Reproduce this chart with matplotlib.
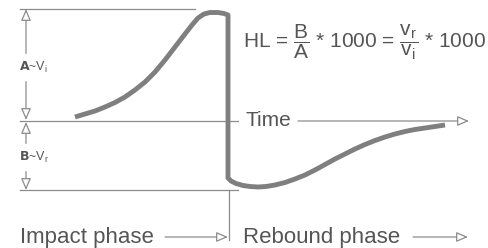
import matplotlib
matplotlib.use('Agg')
import matplotlib.pyplot as plt

plt.rcParams['font.family'] = 'Liberation Sans'
plt.rcParams['mathtext.fontset'] = 'custom'
plt.rcParams['mathtext.rm'] = 'Liberation Sans'
plt.rcParams['mathtext.it'] = 'Liberation Sans'

curve_x = [75, 85, 95, 105, 115, 125, 135, 145, 155, 165, 175, 185, 192, 198, 204, 210, 218, 224, 228,
           228, 231, 236, 243, 250, 258, 266, 275, 285, 295, 305, 315, 325, 335, 345, 355, 365,
           375, 385, 395, 405, 415, 425, 435, 445]
curve_y = [117, 114, 111, 107, 102.5, 97, 90, 82, 72, 60, 47, 34, 25, 18, 14, 12.5, 12.5, 13.5, 15,
           178, 181, 183.5, 185.5, 186.5, 187, 186.5, 185, 182.5, 179, 175, 170, 164.5, 159, 154, 149, 144.5,
           140.5, 137, 134, 131.5, 129.5, 128, 126.5, 125]

# reference levels
y_top = 9
y_time = 121
y_bottom = 190
x_split = 229

line_col = '#8c8c8c'
text_col = '#555555'
curve_col = '#7f7f7f'

fig = plt.figure(figsize=(4.89, 2.48), dpi=100)
ax = fig.add_axes([0, 0, 1, 1])
ax.set_xlim(0, 489)
ax.set_ylim(248, 0)
ax.axis('off')

# horizontal guides
ax.plot([20, 195], [y_top, y_top], color=line_col, lw=0.9)
ax.plot([20, 238], [y_time, y_time], color=line_col, lw=0.9)
ax.plot([20, 238], [y_bottom, y_bottom], color=line_col, lw=0.9)
ax.plot([x_split, x_split], [y_bottom, 240], color=line_col, lw=0.9)

arrow_kw = dict(arrowstyle='-|>,head_length=0.7,head_width=0.3', color=line_col,
                fc='white', lw=0.9, shrinkA=0, shrinkB=0)

# time axis arrow
ax.text(246, y_time, 'Time', fontsize=15, color=text_col, va='center', ha='left')
ax.annotate('', xy=(469, y_time), xytext=(298, y_time), arrowprops=arrow_kw)

# A and B dimension arrows
ax.annotate('', xy=(26, y_top), xytext=(26, 66), arrowprops=arrow_kw)
ax.annotate('', xy=(26, y_time - 1), xytext=(26, 66), arrowprops=arrow_kw)
ax.annotate('', xy=(26, y_time + 1), xytext=(26, 156), arrowprops=arrow_kw)
ax.annotate('', xy=(26, y_bottom), xytext=(26, 156), arrowprops=arrow_kw)
ax.text(19, 67, r'$\mathbf{A}$~V$_\mathrm{i}$', fontsize=9, color=text_col,
        va='center', ha='left', backgroundcolor='white')
ax.text(19, 157, r'$\mathbf{B}$~V$_\mathrm{r}$', fontsize=9, color=text_col,
        va='center', ha='left', backgroundcolor='white')

# curve
ax.plot(curve_x, curve_y, color=curve_col, lw=3.5, solid_joinstyle='round',
        solid_capstyle='butt')

# formula
ax.text(243, 42, r'HL = $\dfrac{\mathrm{B}}{\mathrm{A}}$ * 1000 = $\dfrac{\mathrm{v_r}}{\mathrm{v_i}}$ * 1000',
        fontsize=15, color=text_col, va='center', ha='left')

# phase labels
ax.text(20, 237, 'Impact phase', fontsize=16, color=text_col, va='center', ha='left')
ax.annotate('', xy=(228, 237), xytext=(165, 237), arrowprops=arrow_kw)
ax.text(243, 237, 'Rebound phase', fontsize=16, color=text_col, va='center', ha='left')
ax.annotate('', xy=(468, 237), xytext=(413, 237), arrowprops=arrow_kw)

fig.savefig('out.png', dpi=100, facecolor='white')
